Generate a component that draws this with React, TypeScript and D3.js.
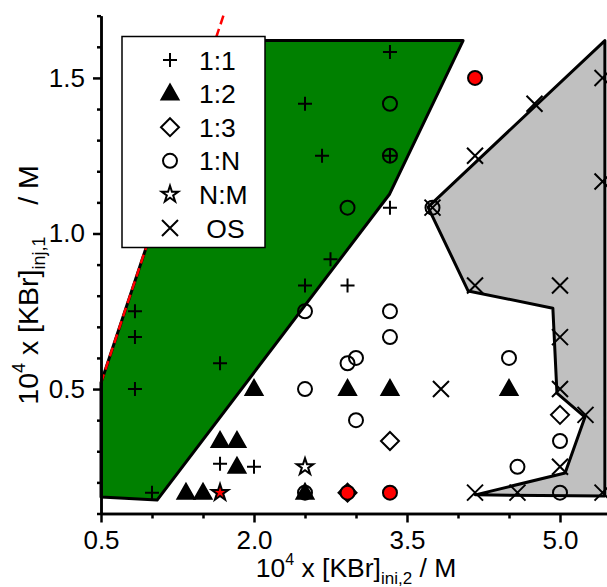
import React, { useRef, useEffect } from 'react';
import * as d3 from 'd3';

// phase regions (x = [KBr]ini,2, y = [KBr]inj,1, both in 1e-4 M)
const greenRegion = [[0.5, 0.153], [0.5, 0.52], [1.62, 1.62], [4.05, 1.62], [3.33, 1.127], [1.05, 0.143]];
const grayRegion = [[3.706, 1.085], [4.1, 0.815], [4.93, 0.76], [4.97, 0.487], [5.245, 0.41], [5.05, 0.23], [4.17, 0.16], [5.44, 0.156], [5.44, 1.62]];
const diagonal = [[0.5, 0.52], [1.7, 1.7]];

// observed stoichiometries
const ratio11 = [[3.333, 1.583], [2.5, 1.417], [2.667, 1.25], [3.333, 1.25], [3.333, 1.083], [2.75, 0.917], [2.5, 0.833], [2.917, 0.833], [0.833, 0.75], [0.833, 0.667], [0.833, 0.5], [1.667, 0.583], [1.667, 0.26], [2.0, 0.25], [1.0, 0.167]];
const ratio12 = [[2.0, 0.5], [2.917, 0.5], [3.333, 0.5], [4.5, 0.5], [1.667, 0.333], [1.833, 0.333], [1.833, 0.25], [1.333, 0.167], [1.5, 0.167], [2.5, 0.167]];
const ratio1N = [[3.333, 1.417], [3.333, 1.25], [2.917, 1.083], [3.75, 1.083], [2.5, 0.75], [3.333, 0.75], [3.333, 0.667], [2.917, 0.583], [3.0, 0.6], [2.5, 0.5], [3.0, 0.4], [4.5, 0.6], [5.0, 0.333], [4.583, 0.25], [5.0, 0.167], [2.5, 0.167]];
const ratio1NRed = [[4.167, 1.5], [3.333, 0.167], [2.917, 0.167]];
const ratio13 = [[3.333, 0.333], [5.0, 0.417], [2.917, 0.167]];
const ratioNM = [[2.5, 0.25]];
const ratioNMRed = [[1.667, 0.167]];
const ratioOS = [[4.167, 1.25], [4.75, 1.417], [3.75, 1.083], [5.417, 1.5], [5.417, 1.167], [4.167, 0.833], [5.0, 0.833], [5.0, 0.667], [3.833, 0.5], [5.0, 0.5], [5.25, 0.417], [5.0, 0.25], [4.167, 0.167], [4.583, 0.167], [5.417, 0.167]];

const legendLabels = ['1:1', '1:2', '1:3', '1:N', 'N:M', ' OS'];
const legendShapes = ['plus', 'tri', 'dia', 'circ', 'star', 'times'];

const xMajor = [0.5, 2.0, 3.5, 5.0];
const xMinor = [1.0, 1.5, 2.5, 3.0, 4.0, 4.5, 5.5];
const yMajor = [0.5, 1.0, 1.5];
const yMinor = [0.1, 0.2, 0.3, 0.4, 0.6, 0.7, 0.8, 0.9, 1.1, 1.2, 1.3, 1.4, 1.6, 1.7];

const FONT = '"Liberation Sans", Arial, sans-serif';

const shapePath = {
  plus: 'M-7,0H7M0,-7V7',
  times: 'M-8,-8L8,8M-8,8L8,-8',
  tri: 'M0,-9L8.5,6L-8.5,6Z',
  dia: 'M0,-9L9,0L0,9L-9,0Z',
  circ: d3.symbol().type(d3.symbolCircle).size(Math.PI * 49)(),
  star: d3.symbol().type(d3.symbolStar).size(85)(),
};

function drawMarks(g, data, shape, x, y, fill) {
  g.selectAll(null)
    .data(data)
    .enter().append('path')
    .attr('d', shapePath[shape])
    .attr('transform', (d) => `translate(${x(d[0])},${y(d[1])})`)
    .attr('fill', fill)
    .attr('stroke', '#000')
    .attr('stroke-width', 2);
}

function PhaseDiagram() {
  const ref = useRef();

  useEffect(() => {
    const svg = d3.select(ref.current);
    svg.selectAll('*').remove();

    const x = d3.scaleLinear().domain([0.5, 5.5]).range([101, 611]);
    const y = d3.scaleLinear().domain([0.1, 1.7]).range([513.5, 15.7]);
    const line = d3.line().x((d) => x(d[0])).y((d) => y(d[1]));

    svg.append('path').attr('d', line(greenRegion) + 'Z')
      .attr('fill', '#008000').attr('stroke', '#000').attr('stroke-width', 3)
      .attr('stroke-linejoin', 'round');
    svg.append('path').attr('d', line(grayRegion) + 'Z')
      .attr('fill', '#c0c0c0').attr('stroke', '#000').attr('stroke-width', 3)
      .attr('stroke-linejoin', 'round');
    svg.append('path').attr('d', line(diagonal))
      .attr('fill', 'none').attr('stroke', '#ff0000').attr('stroke-width', 2.5)
      .attr('stroke-dasharray', '9,5');

    const marks = svg.append('g');
    drawMarks(marks, ratio11, 'plus', x, y, 'none');
    drawMarks(marks, ratio12, 'tri', x, y, '#000');
    drawMarks(marks, ratio1N, 'circ', x, y, 'none');
    drawMarks(marks, ratio13, 'dia', x, y, 'none');
    drawMarks(marks, ratio1NRed, 'circ', x, y, '#ff0000');
    drawMarks(marks, ratioNM, 'star', x, y, 'none');
    drawMarks(marks, ratioNMRed, 'star', x, y, '#ff0000');
    drawMarks(marks, ratioOS, 'times', x, y, 'none');

    // legend
    const legend = svg.append('g');
    legend.append('rect')
      .attr('x', 122).attr('y', 36.5).attr('width', 143).attr('height', 211)
      .attr('fill', '#fff').attr('stroke', '#000').attr('stroke-width', 1.5);
    legendLabels.forEach((label, i) => {
      const cy = 60 + i * 33.6;
      legend.append('path')
        .attr('d', shapePath[legendShapes[i]])
        .attr('transform', `translate(170,${cy})`)
        .attr('fill', legendShapes[i] === 'tri' ? '#000' : 'none')
        .attr('stroke', '#000').attr('stroke-width', 2);
      legend.append('text')
        .attr('x', 199).attr('y', cy + 9.5)
        .attr('font-family', FONT).attr('font-size', 26.5)
        .style('white-space', 'pre')
        .text(label);
    });

    // axes
    const styleAxis = (g) => {
      g.attr('font-family', FONT).attr('font-size', 26);
      g.selectAll('path, line').attr('stroke-width', 2.5);
    };
    svg.append('g').attr('transform', 'translate(0,513.5)')
      .call(d3.axisBottom(x).tickValues(xMinor).tickSize(5).tickSizeOuter(0).tickFormat(''))
      .call(styleAxis);
    svg.append('g').attr('transform', 'translate(0,513.5)')
      .call(d3.axisBottom(x).tickValues(xMajor).tickSize(9).tickSizeOuter(0).tickPadding(8).tickFormat(d3.format('.1f')))
      .call(styleAxis);
    svg.append('g').attr('transform', 'translate(101,0)')
      .call(d3.axisLeft(y).tickValues(yMinor).tickSize(4).tickSizeOuter(0).tickFormat(''))
      .call(styleAxis);
    svg.append('g').attr('transform', 'translate(101,0)')
      .call(d3.axisLeft(y).tickValues(yMajor).tickSize(8).tickSizeOuter(0).tickPadding(8).tickFormat(d3.format('.1f')))
      .call(styleAxis);

    // axis titles
    const xt = svg.append('text')
      .attr('x', 356).attr('y', 577).attr('text-anchor', 'middle')
      .attr('font-family', FONT).attr('font-size', 26.5);
    xt.append('tspan').text('10');
    xt.append('tspan').attr('font-size', 16).attr('dy', -12).text('4');
    xt.append('tspan').attr('dy', 12).text(' x [KBr]');
    xt.append('tspan').attr('font-size', 17).attr('dy', 7).text('ini,2');
    xt.append('tspan').attr('dy', -7).text(' / M');

    const yt = svg.append('text')
      .attr('transform', 'translate(38,285) rotate(-90)').attr('text-anchor', 'middle')
      .attr('font-family', FONT).attr('font-size', 28.5)
      .style('white-space', 'pre');
    yt.append('tspan').text('10');
    yt.append('tspan').attr('font-size', 18).attr('dy', -13).text('4');
    yt.append('tspan').attr('dy', 13).text(' x [KBr]');
    yt.append('tspan').attr('font-size', 18).attr('dy', 7).text('inj,1');
    yt.append('tspan').attr('dy', -7).text('    / M');
  }, []);

  return (
    <svg ref={ref} width={607} height={587}
      style={{ position: 'absolute', left: 0, top: 0, background: '#fff' }} />
  );
}

export default function App() {
  return <PhaseDiagram />;
}
